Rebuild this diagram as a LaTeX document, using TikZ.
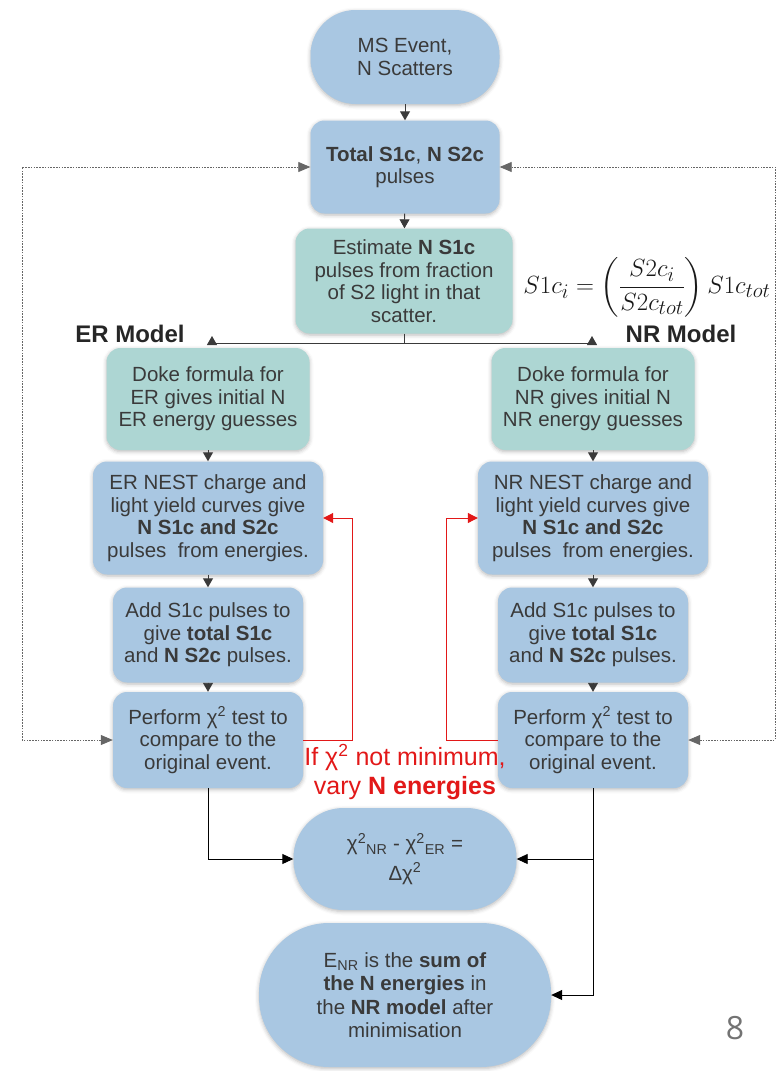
\documentclass[tikz,border=0pt]{standalone}
\usepackage{amsmath}
\usepackage{fontspec}
\setmainfont{Liberation Sans}
\newfontfamily\pagefont{Open Sans}
\usepackage{xcolor}
\usetikzlibrary{arrows.meta,shadows.blur}
\definecolor{boxblue}{RGB}{169,199,226}
\definecolor{boxteal}{RGB}{173,214,211}
\definecolor{boxtext}{RGB}{58,58,58}
\definecolor{loopred}{RGB}{226,24,24}
\tikzset{
	flowbox/.style={
			draw=none, align=center, text=boxtext, inner sep=0pt,
			rounded corners=14pt,
			font=\fontsize{20.5}{22.5}\selectfont,
			blur shadow={shadow xshift=0pt, shadow yshift=-1.5pt,
					shadow blur radius=4pt, shadow opacity=28}
		},
	bluebox/.style={flowbox, fill=boxblue},
	tealbox/.style={flowbox, fill=boxteal},
	pillbox/.style={bluebox, rounded corners=#1},
	flow/.style={-{Triangle[length=9pt,width=10pt]}, draw=boxtext, line width=0.9pt},
	result/.style={-{Triangle[length=11pt,width=10pt]}, draw=black, line width=0.9pt},
	redloop/.style={-{Triangle[length=10pt,width=10pt]}, draw=loopred, line width=1pt},
	dotloop/.style={{Triangle[length=12pt,width=10pt]}-{Triangle[length=12pt,width=10pt]},
			draw=black!60, line width=0.8pt, dash pattern=on 1.6pt off 1.2pt},
	header/.style={font=\fontsize{24}{26}\selectfont\bfseries, text=black!85}
}

\begin{document}
\begin{tikzpicture}[x=1pt, y=-1pt]
	\useasboundingbox (0,0) rectangle (778,1071);

	% Define the common trunk
	\node[pillbox=45pt, minimum width=189pt, minimum height=94pt] (msevent) at (405,57) {MS Event,\\N Scatters};
	\node[bluebox, minimum width=189pt, minimum height=93pt] (totals) at (405,167) {\textbf{Total S1c}, \textbf{N S2c}\\pulses};
	\node[tealbox, minimum width=217pt, minimum height=105pt] (estimate) at (404,281) {Estimate \textbf{N S1c}\\pulses from fraction\\of S2 light in that\\scatter.};
	\node[text=black!90, font=\fontsize{28}{32}\selectfont] (share) at (647,287) {$S1c_i = \left(\dfrac{S2c_i}{S2c_{tot}}\right) S1c_{tot}$};

	% Model headers
	\node[header] (ertitle) at (130,334) {ER Model};
	\node[header] (nrtitle) at (681,334) {NR Model};

	% ER branch
	\node[tealbox, minimum width=203pt, minimum height=102pt] (erdoke) at (208,399) {Doke formula for\\ER gives initial N\\ER energy guesses};
	\node[bluebox, minimum width=230pt, minimum height=113pt] (ernest) at (208,518) {ER NEST charge and\\light yield curves give\\\textbf{N S1c and S2c}\\pulses~ from energies.};
	\node[bluebox, minimum width=190pt, minimum height=95pt] (eradd) at (208,635) {Add S1c pulses to\\give \textbf{total S1c}\\and \textbf{N S2c} pulses.};
	\node[bluebox, minimum width=190pt, minimum height=96pt] (erchi) at (208,740) {Perform χ\textsuperscript{2} test to\\compare to the\\original event.};

	% NR branch
	\node[tealbox, minimum width=203pt, minimum height=102pt] (nrdoke) at (593,399) {Doke formula for\\NR gives initial N\\NR energy guesses};
	\node[bluebox, minimum width=230pt, minimum height=113pt] (nrnest) at (593,518) {NR NEST charge and\\light yield curves give\\\textbf{N S1c and S2c}\\pulses~ from energies.};
	\node[bluebox, minimum width=190pt, minimum height=95pt] (nradd) at (593,635) {Add S1c pulses to\\give \textbf{total S1c}\\and \textbf{N S2c} pulses.};
	\node[bluebox, minimum width=190pt, minimum height=96pt] (nrchi) at (593,740) {Perform χ\textsuperscript{2} test to\\compare to the\\original event.};

	% Comparison and result
	\node[pillbox=50pt, minimum width=223pt, minimum height=102pt] (delta) at (405,859) {χ\textsuperscript{2}\textsubscript{NR} - χ\textsuperscript{2}\textsubscript{ER} =\\[7pt]Δχ\textsuperscript{2}};
	\node[pillbox=70pt, minimum width=292pt, minimum height=144pt, font=\fontsize{20.5}{23.5}\selectfont] (enr) at (405,995) {E\textsubscript{NR} is the \textbf{sum of}\\\textbf{the N energies} in\\the \textbf{NR model} after\\minimisation};

	\node[align=center, text=loopred, font=\fontsize{25}{29}\selectfont] (vary) at (405,772) {If χ\textsuperscript{2} not minimum,\\vary \textbf{N energies}};
	\node[text=black!55, font=\pagefont\fontsize{32}{34}\selectfont] (pagenum) at (735,1028) {8};

	% Rails for the loops
	\coordinate (split) at (404,343);
	\coordinate (erup) at (212,336);
	\coordinate (nrup) at (592,336);
	\coordinate (leftrail) at (22,0);
	\coordinate (rightrail) at (775,0);
	\coordinate (erred) at (352,0);
	\coordinate (nrred) at (446,0);

	% Draw the flow arrows
	\draw[flow] (msevent) -- (totals);
	\draw[flow] (totals) -- (estimate);
	\draw[draw=boxtext, line width=0.9pt] (estimate.south) -- (split);
	\draw[flow] (split) -| (erup);
	\draw[flow] (split) -| (nrup);
	\draw[flow] (erdoke) -- (ernest);
	\draw[flow] (ernest) -- (eradd);
	\draw[flow] (eradd) -- (erchi);
	\draw[flow] (nrdoke) -- (nrnest);
	\draw[flow] (nrnest) -- (nradd);
	\draw[flow] (nradd) -- (nrchi);

	% Draw the loops
	\draw[dotloop] (erchi.west) -- (erchi.west -| leftrail) |- (totals.west);
	\draw[dotloop] (nrchi.east) -- (nrchi.east -| rightrail) |- (totals.east);
	\draw[redloop] (erchi.east) -- (erchi.east -| erred) |- (ernest.east);
	\draw[redloop] (nrchi.west) -- (nrchi.west -| nrred) |- (nrnest.west);

	% Draw the result arrows
	\draw[result] (erchi.south) |- (delta.west);
	\draw[result] (nrchi.south) |- (delta.east);
	\draw[result] (nrchi.south) |- (enr.east);
\end{tikzpicture}
\end{document}
